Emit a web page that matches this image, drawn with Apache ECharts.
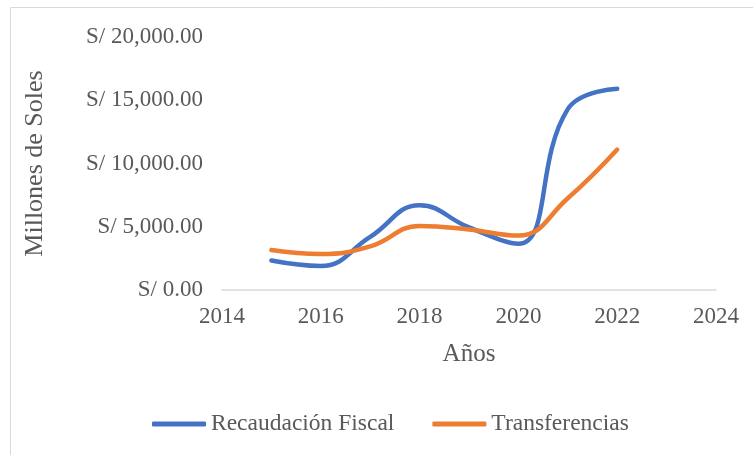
<!DOCTYPE html>
<html>
<head>
<meta charset="utf-8">
<script src="https://cdn.jsdelivr.net/npm/echarts@6/dist/echarts.min.js"></script>
<style>
html,body{margin:0;padding:0;background:#fff;}
#chart{width:753px;height:455px;}
</style>
</head>
<body>
<div id="chart"></div>
<script>
const years = [2015, 2016, 2017, 2018, 2019, 2020, 2021, 2022];
const recaudacion = [2330, 1900, 4200, 6700, 4950, 3650, 14300, 15900];
const transferencias = [3160, 2850, 3450, 5060, 4780, 4300, 7250, 11100];
const seriesNames = ['Recaudación Fiscal', 'Transferencias'];
const xTitle = 'Años';
const yTitle = 'Millones de Soles';

const font = '"Liberation Serif", "Times New Roman", serif';
const txt = '#595959';

function fmt(v) {
  return 'S/ ' + v.toLocaleString('en-US', {minimumFractionDigits: 2, maximumFractionDigits: 2});
}

const chart = echarts.init(document.getElementById('chart'));
chart.setOption({
  animation: false,
  backgroundColor: '#fff',
  graphic: [{
    type: 'rect',
    shape: {x: 10.5, y: 7.5, width: 800, height: 500},
    style: {fill: 'none', stroke: '#d9d9d9', lineWidth: 1},
    silent: true
  }],
  grid: {left: 222, right: 37, top: 37, bottom: 165},
  legend: {
    data: seriesNames,
    left: 152,
    top: 412,
    padding: 0,
    itemWidth: 54,
    itemHeight: 5,
    itemGap: 38,
    icon: 'roundRect',
    textStyle: {fontFamily: font, fontSize: 23.5, color: txt}
  },
  xAxis: {
    type: 'value',
    min: 2014,
    max: 2024,
    interval: 2,
    name: xTitle,
    nameLocation: 'middle',
    nameGap: 52,
    nameTextStyle: {fontFamily: font, fontSize: 25, color: txt},
    axisLine: {show: true, lineStyle: {color: '#d9d9d9', width: 1.5}},
    axisTick: {show: false},
    splitLine: {show: false},
    axisLabel: {fontFamily: font, fontSize: 23, color: txt, margin: 15, formatter: v => String(v)}
  },
  yAxis: {
    type: 'value',
    min: 0,
    max: 20000,
    interval: 5000,
    name: yTitle,
    nameLocation: 'middle',
    nameGap: 174,
    nameTextStyle: {fontFamily: font, fontSize: 26, color: txt},
    axisLine: {show: false},
    axisTick: {show: false},
    splitLine: {show: false},
    axisLabel: {fontFamily: font, fontSize: 23, color: txt, margin: 19, formatter: fmt}
  },
  series: [
    {
      name: seriesNames[0],
      type: 'line',
      smooth: 0.45,
      showSymbol: false,
      symbol: 'none',
      data: years.map((y, i) => [y, recaudacion[i]]),
      lineStyle: {color: '#4472C4', width: 4.5, cap: 'round'},
      itemStyle: {color: '#4472C4'}
    },
    {
      name: seriesNames[1],
      type: 'line',
      smooth: 0.45,
      showSymbol: false,
      symbol: 'none',
      data: years.map((y, i) => [y, transferencias[i]]),
      lineStyle: {color: '#ED7D31', width: 4.5, cap: 'round'},
      itemStyle: {color: '#ED7D31'}
    }
  ]
});
</script>
</body>
</html>
